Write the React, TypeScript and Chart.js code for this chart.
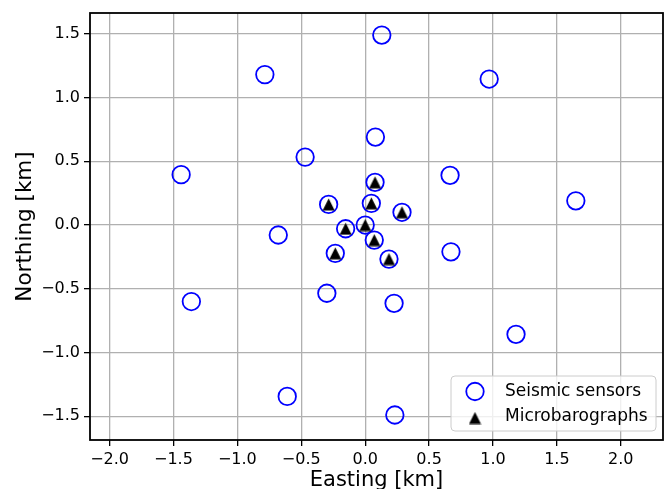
import { useEffect, useRef } from 'react';
import { Chart, registerables } from 'chart.js';

Chart.register(...registerables);

// Seismic sensor positions (km)
const sensorEast = [
  0.13, -0.785, 0.97, 0.08, -0.47, -1.44, 0.664, 1.648, -0.68, 0.671, -1.36, -0.30, 0.226, 1.18, -0.61, 0.232,
  0.077, -0.286, 0.048, 0.288, 0.0, -0.153, 0.071, -0.234, 0.186,
];
const sensorNorth = [
  1.49, 1.18, 1.145, 0.69, 0.533, 0.395, 0.39, 0.19, -0.078, -0.21, -0.60, -0.535, -0.614, -0.857, -1.344, -1.49,
  0.335, 0.162, 0.17, 0.10, 0.0, -0.029, -0.118, -0.222, -0.267,
];

// Microbarograph positions (km)
const baroEast = [0.077, -0.286, 0.048, 0.288, 0.0, -0.153, 0.071, -0.234, 0.186];
const baroNorth = [0.335, 0.162, 0.17, 0.10, 0.0, -0.029, -0.118, -0.222, -0.267];

const xTicks = [-2.0, -1.5, -1.0, -0.5, 0.0, 0.5, 1.0, 1.5, 2.0];
const yTicks = [-1.5, -1.0, -0.5, 0.0, 0.5, 1.0, 1.5];
const xRange = [-2.153, 2.33];
const yRange = [-1.686, 1.663];

const seriesNames = ['Seismic sensors', 'Microbarographs'];

const FONT = "'DejaVu Sans', sans-serif";
const AREA = { left: 90, right: 663, top: 13, bottom: 440 };

function makeTriangle(size: number, color: string): HTMLCanvasElement {
  const c = document.createElement('canvas');
  const s = size + 1;
  c.width = s;
  c.height = s;
  const g = c.getContext('2d')!;
  g.fillStyle = color;
  g.beginPath();
  g.moveTo(s / 2, 0.5);
  g.lineTo(s - 0.5, s - 0.5);
  g.lineTo(0.5, s - 0.5);
  g.closePath();
  g.fill();
  return c;
}

const fmt = (v: number) => v.toFixed(1).replace('-', '\u2212');

export default function App() {
  const ref = useRef<HTMLCanvasElement | null>(null);

  useEffect(() => {
    if (!ref.current) return;
    const tri = makeTriangle(12, '#000000');

    const framePlugin = {
      id: 'frame',
      afterLayout(chart: any) {
        const ca = chart.chartArea;
        ca.left = AREA.left;
        ca.right = AREA.right;
        ca.top = AREA.top;
        ca.bottom = AREA.bottom;
        ca.width = AREA.right - AREA.left;
        ca.height = AREA.bottom - AREA.top;
        const xs = chart.scales.x;
        xs.left = AREA.left;
        xs.right = AREA.right;
        xs.width = AREA.right - AREA.left;
        xs.top = AREA.bottom;
        xs.bottom = chart.height;
        xs.height = chart.height - AREA.bottom;
        xs.configure();
        const ys = chart.scales.y;
        ys.left = 0;
        ys.right = AREA.left;
        ys.width = AREA.left;
        ys.top = AREA.top;
        ys.bottom = AREA.bottom;
        ys.height = AREA.bottom - AREA.top;
        ys.configure();
      },
      afterDatasetsDraw(chart: any) {
        const { ctx, chartArea } = chart;
        ctx.save();
        ctx.strokeStyle = '#000000';
        ctx.lineWidth = 1.8;
        ctx.strokeRect(chartArea.left, chartArea.top, chartArea.right - chartArea.left, chartArea.bottom - chartArea.top);
        ctx.restore();
      },
      afterDraw(chart: any) {
        const { ctx } = chart;
        ctx.save();
        // legend box
        const x = 451, y = 376, w = 205, h = 55, r = 4;
        ctx.beginPath();
        ctx.moveTo(x + r, y);
        ctx.lineTo(x + w - r, y);
        ctx.arcTo(x + w, y, x + w, y + r, r);
        ctx.lineTo(x + w, y + h - r);
        ctx.arcTo(x + w, y + h, x + w - r, y + h, r);
        ctx.lineTo(x + r, y + h);
        ctx.arcTo(x, y + h, x, y + h - r, r);
        ctx.lineTo(x, y + r);
        ctx.arcTo(x, y, x + r, y, r);
        ctx.closePath();
        ctx.fillStyle = 'rgba(255,255,255,0.8)';
        ctx.fill();
        ctx.strokeStyle = '#cccccc';
        ctx.lineWidth = 1;
        ctx.stroke();
        // markers
        ctx.beginPath();
        ctx.arc(475, 391.5, 8.75, 0, Math.PI * 2);
        ctx.strokeStyle = '#0000ff';
        ctx.lineWidth = 1.8;
        ctx.stroke();
        ctx.drawImage(tri, 475 - tri.width / 2, 418 - tri.height / 2);
        // text
        ctx.fillStyle = '#000000';
        ctx.font = `17px ${FONT}`;
        ctx.textBaseline = 'middle';
        ctx.textAlign = 'left';
        ctx.fillText(seriesNames[0], 505, 391.7);
        ctx.fillText(seriesNames[1], 505, 416.7);
        ctx.restore();
      },
    };

    const chart = new Chart(ref.current, {
      type: 'scatter',
      data: {
        datasets: [
          {
            label: seriesNames[0],
            data: sensorEast.map((e, i) => ({ x: e, y: sensorNorth[i] })),
            pointStyle: 'circle',
            pointRadius: 8.75,
            pointHoverRadius: 8.75,
            pointBorderWidth: 1.8,
            borderColor: '#0000ff',
            backgroundColor: 'rgba(0,0,0,0)',
            order: 2,
          },
          {
            label: seriesNames[1],
            data: baroEast.map((e, i) => ({ x: e, y: baroNorth[i] })),
            pointStyle: tri,
            pointRadius: 6,
            borderColor: '#000000',
            backgroundColor: '#000000',
            order: 1,
          },
        ],
      },
      options: {
        animation: false,
        responsive: true,
        maintainAspectRatio: false,
        events: [],
        layout: { padding: { left: 0, top: 13, right: 2, bottom: 0 } },
        plugins: {
          legend: { display: false },
          tooltip: { enabled: false },
        },
        scales: {
          x: {
            type: 'linear',
            min: xRange[0],
            max: xRange[1],
            afterBuildTicks: (scale: any) => {
              scale.ticks = xTicks.map((v) => ({ value: v }));
            },
            afterFit: (scale: any) => {
              scale.height = 49;
              scale.paddingLeft = 0;
              scale.paddingRight = 0;
            },
            border: { display: false },
            grid: {
              color: '#b0b0b0',
              lineWidth: 1.3,
              tickColor: '#000000',
              tickWidth: 1.3,
              tickLength: 6,
            },
            ticks: {
              color: '#000000',
              font: { family: FONT, size: 16 },
              padding: 4.5,
              maxRotation: 0,
              autoSkip: false,
              callback: (v: any) => fmt(Number(v)),
            },
            title: {
              display: true,
              text: 'Easting [km]',
              color: '#000000',
              font: { family: FONT, size: 21, lineHeight: 0.8 },
              padding: { top: 0, bottom: 0 },
            },
          },
          y: {
            type: 'linear',
            min: yRange[0],
            max: yRange[1],
            afterBuildTicks: (scale: any) => {
              scale.ticks = yTicks.map((v) => ({ value: v }));
            },
            afterFit: (scale: any) => {
              scale.width = 90;
              scale.paddingTop = 0;
              scale.paddingBottom = 0;
            },
            border: { display: false },
            grid: {
              color: '#b0b0b0',
              lineWidth: 1.3,
              tickColor: '#000000',
              tickWidth: 1.3,
              tickLength: 6,
            },
            ticks: {
              color: '#000000',
              font: { family: FONT, size: 16 },
              padding: 4,
              autoSkip: false,
              callback: (v: any) => fmt(Number(v)),
            },
            title: {
              display: true,
              text: 'Northing [km]',
              color: '#000000',
              font: { family: FONT, size: 21.5, lineHeight: 1.2 },
              padding: { top: 13, bottom: 0 },
            },
          },
        },
      },
      plugins: [framePlugin],
    });

    return () => chart.destroy();
  }, []);

  return (
    <div style={{ position: 'absolute', left: 0, top: 0, width: 665, height: 489, background: '#ffffff' }}>
      <canvas ref={ref} />
    </div>
  );
}
